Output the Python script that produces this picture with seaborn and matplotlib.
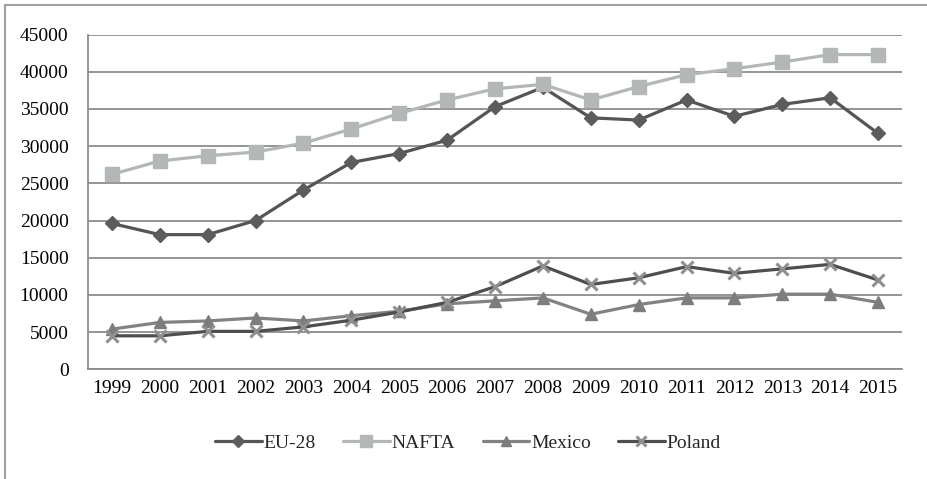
import matplotlib
matplotlib.use("Agg")
import matplotlib.pyplot as plt
from matplotlib.lines import Line2D
from matplotlib.ticker import MultipleLocator, FixedLocator
import seaborn as sns
import pandas as pd

years = list(range(1999, 2016))
eu28 = [19600, 18100, 18100, 20000, 24100, 27800, 29000, 30800, 35300, 37900,
        33800, 33500, 36200, 34000, 35600, 36500, 31700]
nafta = [26200, 28000, 28700, 29200, 30400, 32300, 34400, 36200, 37700, 38300,
         36200, 38000, 39600, 40400, 41300, 42300, 42300]
mexico = [5400, 6300, 6500, 6900, 6500, 7200, 7800, 8800, 9200, 9600,
          7400, 8700, 9600, 9600, 10100, 10100, 9000]
poland = [4500, 4500, 5100, 5100, 5700, 6600, 7700, 9000, 11100, 13900,
          11400, 12300, 13800, 12900, 13500, 14100, 12000]

series = {"EU-28": eu28, "NAFTA": nafta, "Mexico": mexico, "Poland": poland}

sns.set_theme(style="white")
plt.rcParams["font.family"] = ["Liberation Serif", "DejaVu Serif"]

df = pd.DataFrame(
    [(y, name, v) for name, vals in series.items() for y, v in zip(years, vals)],
    columns=["year", "region", "value"],
)

styles = {
    "EU-28": dict(color="#555555", marker="D", markersize=7, mfc="#5c5c5c", mec="#5c5c5c", mew=1),
    "NAFTA": dict(color="#b4b7b7", marker="s", markersize=9.5, mfc="#b4b7b7", mec="#b4b7b7", mew=1),
    "Mexico": dict(color="#828282", marker="^", markersize=9, mfc="#7d7d7d", mec="#7d7d7d", mew=1),
    "Poland": dict(color="#4e4e4e", marker="x", markersize=8, mfc="#8f8f8f", mec="#8f8f8f", mew=2.2),
}

FS = 14

fig = plt.figure(figsize=(9.27, 4.79), dpi=100)
ax = fig.add_axes([88 / 927, 1 - 369.3 / 479, (902 - 88) / 927, (369.3 - 34.5) / 479])

for name in series:
    st = styles[name]
    sns.lineplot(
        data=df[df["region"] == name], x="year", y="value", ax=ax,
        color=st["color"], linewidth=2.3, marker=st["marker"],
        markersize=st["markersize"], markerfacecolor=st["mfc"],
        markeredgecolor=st["mec"], markeredgewidth=st["mew"],
        label=name, legend=False,
    )

ax.set_xlim(years[0] - 0.5, years[-1] + 0.5)
ax.set_ylim(0, 45000)
ax.yaxis.set_major_locator(MultipleLocator(5000))
ax.xaxis.set_major_locator(FixedLocator(years))
ax.set_xticklabels([str(y) for y in years])
ax.xaxis.set_minor_locator(FixedLocator([y + 0.5 for y in [years[0] - 1] + years]))
ax.set_xlabel("")
ax.set_ylabel("")

ax.grid(axis="y", color="#8c8c8c", linewidth=1.3)
ax.set_axisbelow(True)
for side in ["top", "right"]:
    ax.spines[side].set_visible(False)
for side in ["left", "bottom"]:
    ax.spines[side].set_color("#8c8c8c")
    ax.spines[side].set_linewidth(1.3)

ax.tick_params(axis="x", which="major", length=0, pad=8, labelsize=FS, colors="black")
ax.tick_params(axis="x", which="minor", length=5, width=1.3, color="#8c8c8c", direction="out")
ax.tick_params(axis="y", which="major", length=5, width=1.3, color="#8c8c8c",
               direction="out", pad=9, labelsize=FS, labelcolor="black")

handles = [
    Line2D([0], [0], color=styles[n]["color"], linewidth=2.3, marker=styles[n]["marker"],
           markersize=styles[n]["markersize"] * 0.85, markerfacecolor=styles[n]["mfc"],
           markeredgecolor=styles[n]["mec"], markeredgewidth=styles[n]["mew"])
    for n in series
]
fig.legend(handles, list(series.keys()), loc="center", bbox_to_anchor=(468 / 927, 1 - 443 / 479),
           ncol=4, frameon=False, fontsize=FS, handlelength=2.4, handletextpad=0.1,
           columnspacing=1.4)

# outer chart frame
fig.add_artist(Line2D([5 / 927, 1.0], [1 - 5 / 479, 1 - 5 / 479], color="#a0a0a0", linewidth=1.5,
                      transform=fig.transFigure))
fig.add_artist(Line2D([5 / 927, 5 / 927], [0.0, 1 - 5 / 479], color="#a0a0a0", linewidth=1.5,
                      transform=fig.transFigure))

fig.savefig("out.png", dpi=100, facecolor="white")
